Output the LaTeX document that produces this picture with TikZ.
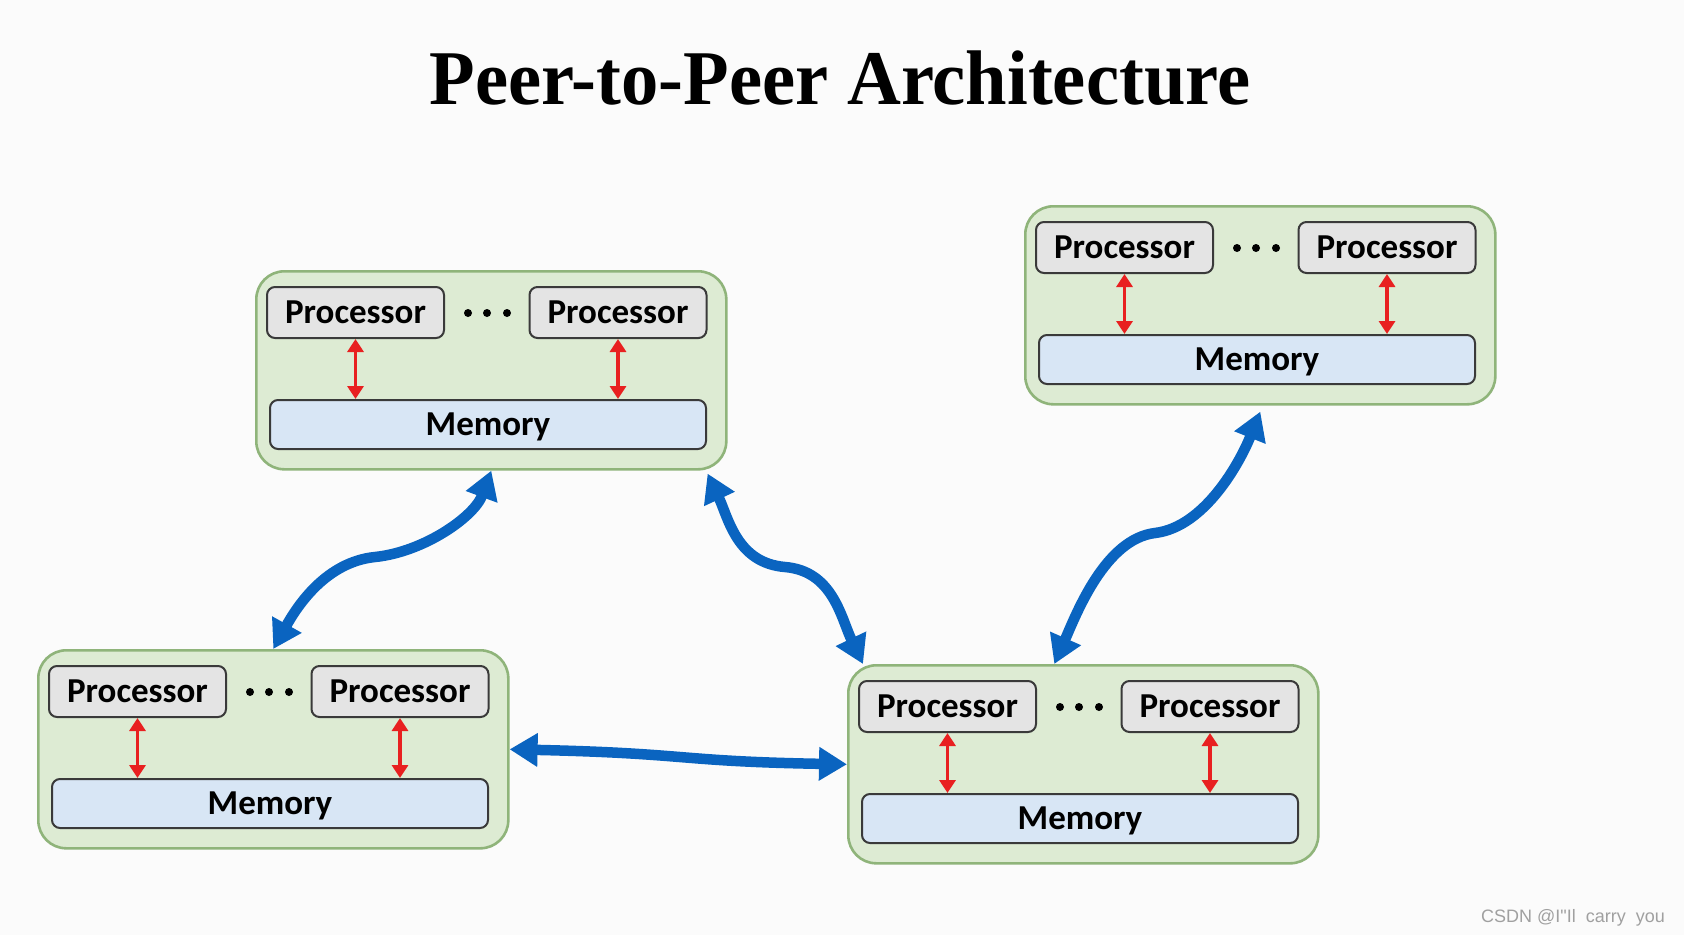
\documentclass[tikz,border=0pt]{standalone}
\usepackage{fontspec}
\usepackage{graphicx}
\setmainfont{Carlito}
\newfontfamily\titlefont{Liberation Serif}
\newfontfamily\wmfont{Liberation Sans}
\usetikzlibrary{arrows.meta,calc}
\definecolor{bgc}{HTML}{FBFBFB}
\definecolor{outerfill}{HTML}{DDEBD3}
\definecolor{outerdraw}{HTML}{8FB47A}
\definecolor{procfill}{HTML}{E4E4E4}
\definecolor{procdraw}{HTML}{3A3A3A}
\definecolor{memfill}{HTML}{D8E6F5}
\definecolor{blueC}{HTML}{0A64C0}
\definecolor{redC}{HTML}{E82020}
\definecolor{wmgray}{HTML}{A0A0A0}
\tikzset{
  outerbox/.style={draw=outerdraw, fill=outerfill, line width=2.6pt, rounded corners=28pt,
    minimum width=470pt, minimum height=198pt, inner sep=0pt},
  innerbase/.style={draw=procdraw, line width=2pt, rounded corners=8pt, inner sep=0pt,
    font=\bfseries\fontsize{35}{40}\selectfont, text height=22pt, text depth=0pt},
  procbox/.style={innerbase, fill=procfill, minimum width=177pt, minimum height=51pt},
  membox/.style={innerbase, fill=memfill, minimum width=436pt, minimum height=49pt},
  redarrow/.style={draw=redC, line width=3.5pt, {Triangle[width=16pt,length=13pt]}-{Triangle[width=16pt,length=13pt]}},
  bluearrow/.style={draw=blueC, line width=10.5pt, {Triangle[width=32pt,length=28pt]}-{Triangle[width=32pt,length=28pt]}},
  dotfill/.style={fill=black}
}
\newcommand\pcluster[3]{%
  \begin{scope}[shift={(#2,#3)}]
    \node[outerbox, anchor=north west] (#1o) at (0,0) {};
    \node[procbox] (#1p1) at (100.5,42.5) {Processor};
    \node[procbox] (#1p2) at (363,42.5) {Processor};
    \node[membox] (#1m) at (233,154.5) {Memory};
    \fill[dotfill] (213,43) circle (4) (232,43) circle (4) (252,43) circle (4);
    \draw[redarrow] (#1p1.south) -- (#1p1.south |- #1m.north);
    \draw[redarrow] (#1p2.south) -- (#1p2.south |- #1m.north);
  \end{scope}}
\begin{document}
\begin{tikzpicture}[x=1pt,y=-1pt]
  \fill[bgc] (0,0) rectangle (1684,935);
  \useasboundingbox (0,0) rectangle (1684,935);
  \node[anchor=base, inner sep=0pt] (title) at (840,104)
    {\scalebox{0.944}[0.98]{\titlefont\bfseries\fontsize{79}{90}\selectfont Peer-to-Peer Architecture}};
  \pcluster{tl}{255}{270}
  \pcluster{tr}{1024}{205}
  \pcluster{bl}{37}{649}
  \pcluster{br}{847}{664}
  % blue connectors
  \coordinate (m1) at (375,557);
  \coordinate (m2) at (785,567);
  \coordinate (m3) at (1155,533);
  \draw[bluearrow] (blo.north) .. controls +(24,-43) and +(-49,5) .. (m1)
                               .. controls +(49,-5) and +(-17,46) .. (tlo.south);
  \draw[bluearrow] ([xshift=-20pt,yshift=-3pt]tlo.south east) .. controls +(21,45) and +(-48,-4) .. (m2)
                               .. controls +(48,4) and +(-22,-46) .. ([xshift=16pt]bro.north west);
  \draw[bluearrow] ([xshift=-29pt]bro.north) .. controls +(22,-50) and +(-50,6) .. (m3)
                               .. controls +(50,-6) and +(-20,50) .. ([yshift=-6pt]tro.south);
  \draw[bluearrow] (blo.east) .. controls +(180,4) and +(-170,-3) .. (bro.west);
  \node[anchor=base west, inner sep=0pt, text=wmgray, font=\wmfont\fontsize{18}{20}\selectfont] (wm) at (1481,922) {CSDN @I"Il\ \ carry\ \ you};
\end{tikzpicture}
\end{document}
